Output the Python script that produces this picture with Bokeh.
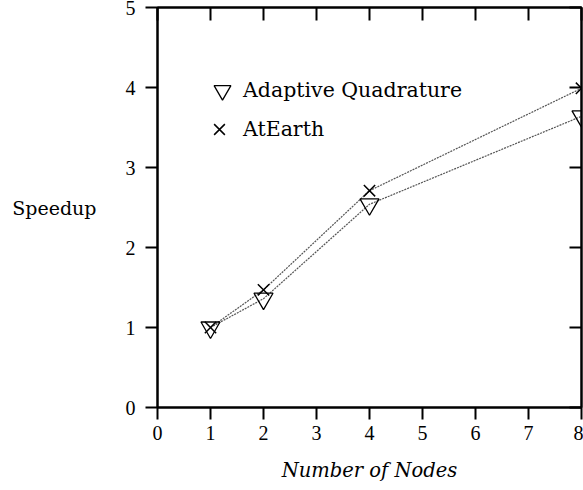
from bokeh.plotting import figure
from bokeh.models import LinearAxis, FixedTicker, Legend, LegendItem, Range1d
from bokeh.embed import file_html
from bokeh.resources import INLINE

# ---- data ----
nodes = [1, 2, 4, 8]
adaptive_quadrature = [1.0, 1.36, 2.54, 3.64]
atearth = [1.0, 1.47, 2.71, 3.99]
x_ticks = [0, 1, 2, 3, 4, 5, 6, 7, 8]
y_ticks = [0, 1, 2, 3, 4, 5]
series_names = ["Adaptive Quadrature", "AtEarth"]
x_label = "Number of Nodes"
y_label = "Speedup"

SERIF = "DejaVu Serif"
DIGITS = "Liberation Serif"

p = figure(frame_width=424, frame_height=400, output_backend="svg",
           toolbar_location=None, x_range=Range1d(0, 8), y_range=Range1d(0, 5),
           min_border_left=157, min_border_top=7, min_border_right=2,
           min_border_bottom=83)
p.xgrid.visible = False
p.ygrid.visible = False
p.outline_line_color = "black"
p.outline_line_width = 2
p.background_fill_color = "white"
p.border_fill_color = "white"

# bottom axis
xa = p.xaxis[0]
xa.ticker = FixedTicker(ticks=x_ticks)
xa.major_tick_out = 12
xa.major_tick_in = 0
xa.minor_tick_line_color = None
xa.axis_line_width = 2
xa.major_tick_line_width = 2
xa.major_label_text_font = DIGITS
xa.major_label_text_font_size = "20px"
xa.major_label_text_color = "black"
xa.major_label_standoff = 6
xa.axis_label = x_label
xa.axis_label_text_font = SERIF
xa.axis_label_text_font_style = "italic"
xa.axis_label_text_font_size = "19.5px"
xa.axis_label_text_color = "black"
xa.axis_label_standoff = 16

# left axis
ya = p.yaxis[0]
ya.ticker = FixedTicker(ticks=y_ticks)
ya.major_tick_out = 12
ya.major_tick_in = 0
ya.minor_tick_line_color = None
ya.axis_line_width = 2
ya.major_tick_line_width = 2
ya.major_label_text_font = DIGITS
ya.major_label_text_font_size = "20px"
ya.major_label_text_color = "black"
ya.major_label_standoff = 10
ya.axis_label = y_label
ya.axis_label_orientation = "horizontal"
ya.axis_label_text_font = SERIF
ya.axis_label_text_font_style = "normal"
ya.axis_label_text_font_size = "19px"
ya.axis_label_text_color = "black"
ya.axis_label_standoff = 26

# top axis: inward ticks, no labels
ta = LinearAxis(ticker=FixedTicker(ticks=x_ticks), major_tick_in=13, major_tick_out=0,
                minor_tick_line_color=None, axis_line_width=2, major_tick_line_width=2,
                major_label_overrides={t: "" for t in x_ticks},
                major_label_text_font_size="10px", major_label_standoff=0)
p.add_layout(ta, "above")
# right axis: inward ticks, no labels
ra = LinearAxis(ticker=FixedTicker(ticks=y_ticks), major_tick_in=12, major_tick_out=0,
                minor_tick_line_color=None, axis_line_width=2, major_tick_line_width=2,
                major_label_overrides={t: "" for t in y_ticks},
                major_label_text_font_size="10px", major_label_standoff=0)
p.add_layout(ra, "right")

# series
p.line(nodes, adaptive_quadrature, line_color="#555555", line_width=1.2, line_dash="2 1")
p.line(nodes, atearth, line_color="#555555", line_width=1.2, line_dash="2 1")
r_aq = p.scatter(nodes, adaptive_quadrature, marker="inverted_triangle", size=19,
                 fill_color=None, line_color="black", line_width=1.3)
r_at = p.scatter(nodes, atearth, marker="x", size=16,
                 line_color="black", line_width=1.5)

leg1 = Legend(items=[LegendItem(label=series_names[0], renderers=[r_aq])],
              location=(44, 296), glyph_width=42, glyph_height=42,
              label_standoff=0, padding=0, margin=0, spacing=0,
              border_line_color=None, background_fill_alpha=0,
              label_text_font=SERIF, label_text_font_size="20.5px",
              label_text_color="black")
leg2 = Legend(items=[LegendItem(label=series_names[1], renderers=[r_at])],
              location=(43, 259), glyph_width=38, glyph_height=38,
              label_standoff=5, padding=0, margin=0, spacing=0,
              border_line_color=None, background_fill_alpha=0,
              label_text_font=SERIF, label_text_font_size="20.5px",
              label_text_color="black")
p.add_layout(leg1)
p.add_layout(leg2)

open("out.html", "w").write(file_html(p, INLINE))
